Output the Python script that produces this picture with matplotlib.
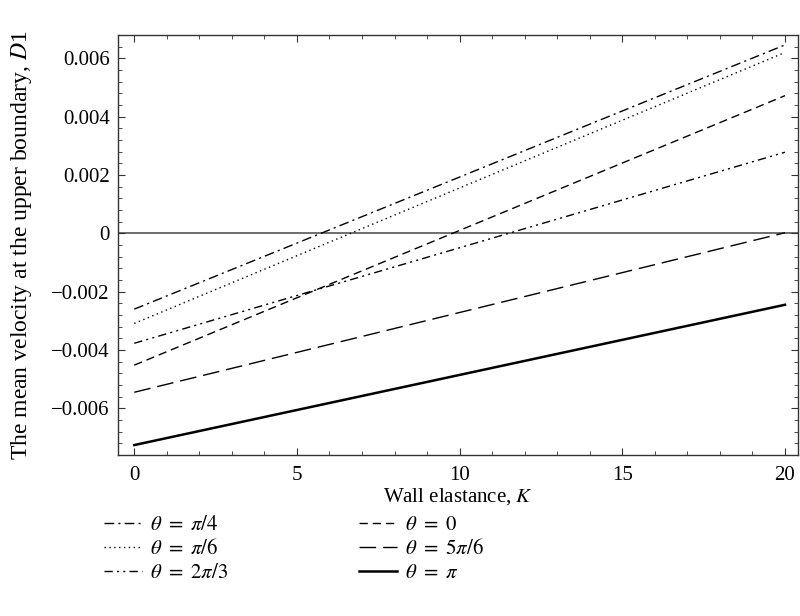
import matplotlib
matplotlib.use("Agg")
import matplotlib.pyplot as plt
import numpy as np
from matplotlib.ticker import MultipleLocator, FuncFormatter

plt.rcParams['font.family'] = ['Liberation Serif', 'DejaVu Serif']
plt.rcParams['mathtext.fontset'] = 'stix'

# Wall elastance K and the mean velocity D1 at the endpoints of each (linear) curve
K = [0, 20]
labels = [r'$\theta\ =\ \pi/4$', r'$\theta\ =\ \pi/6$', r'$\theta\ =\ 2\pi/3$',
          r'$\theta\ =\ 0$', r'$\theta\ =\ 5\pi/6$', r'$\theta\ =\ \pi$']
d1_pi_4 = [-0.00260, 0.00646]
d1_pi_6 = [-0.00309, 0.00620]
d1_2pi_3 = [-0.00377, 0.00278]
d1_0 = [-0.00452, 0.00472]
d1_5pi_6 = [-0.00545, 0.00002]
d1_pi = [-0.00726, -0.00245]

series = [d1_pi_4, d1_pi_6, d1_2pi_3, d1_0, d1_5pi_6, d1_pi]
styles = [
    dict(ls=(0, (7, 3, 1.5, 3)), lw=1.0),
    dict(ls=(0, (1, 2.5)), lw=1.0),
    dict(ls=(0, (6, 3, 1.5, 3, 1.5, 3)), lw=1.0),
    dict(ls=(0, (6, 3.5)), lw=1.0),
    dict(ls=(0, (12, 5)), lw=1.0),
    dict(ls='-', lw=1.8),
]

fig = plt.figure(figsize=(8.0, 6.16), dpi=100)
ax = fig.add_axes([0.1475, 0.2614, 0.85, 0.6818])

ax.axhline(0, color='#555555', lw=1.2, zorder=1)
handles = []
for y, lab, st in zip(series, labels, styles):
    h, = ax.plot(K, y, color='black', label=lab, **st)
    handles.append(h)

ax.set_xlim(-0.5, 20.4)
ax.set_ylim(-0.0076, 0.0068)
ax.xaxis.set_major_locator(MultipleLocator(5))
ax.xaxis.set_minor_locator(MultipleLocator(1))
ax.yaxis.set_major_locator(MultipleLocator(0.002))
ax.yaxis.set_minor_locator(MultipleLocator(0.0004))


def fmt(v, pos):
    if abs(v) < 1e-12:
        return '0'
    return ('%.3f' % v).replace('-', '\u2212')


ax.yaxis.set_major_formatter(FuncFormatter(fmt))
ax.tick_params(which='both', direction='in', top=True, right=True,
               labelsize=15, color='#333333')
ax.tick_params(which='major', length=5, pad=6)
ax.tick_params(axis='x', which='major', pad=8)
ax.tick_params(which='minor', length=3)
for s in ax.spines.values():
    s.set_color('#333333')
    s.set_linewidth(1.0)

ax.set_xlabel(r'Wall elastance, $K$', fontsize=15, labelpad=1)
ax.set_ylabel(r'The mean velocity at the upper boundary, $D$1', fontsize=17, labelpad=12)

fig.legend(handles=handles, labels=labels, ncol=2, loc='upper left',
           bbox_to_anchor=(0.117, 0.180), frameon=False, fontsize=15,
           handlelength=1.8, handletextpad=0.4, columnspacing=6.3,
           labelspacing=0.2, borderpad=0.0)

fig.savefig('out.png', dpi=100)
